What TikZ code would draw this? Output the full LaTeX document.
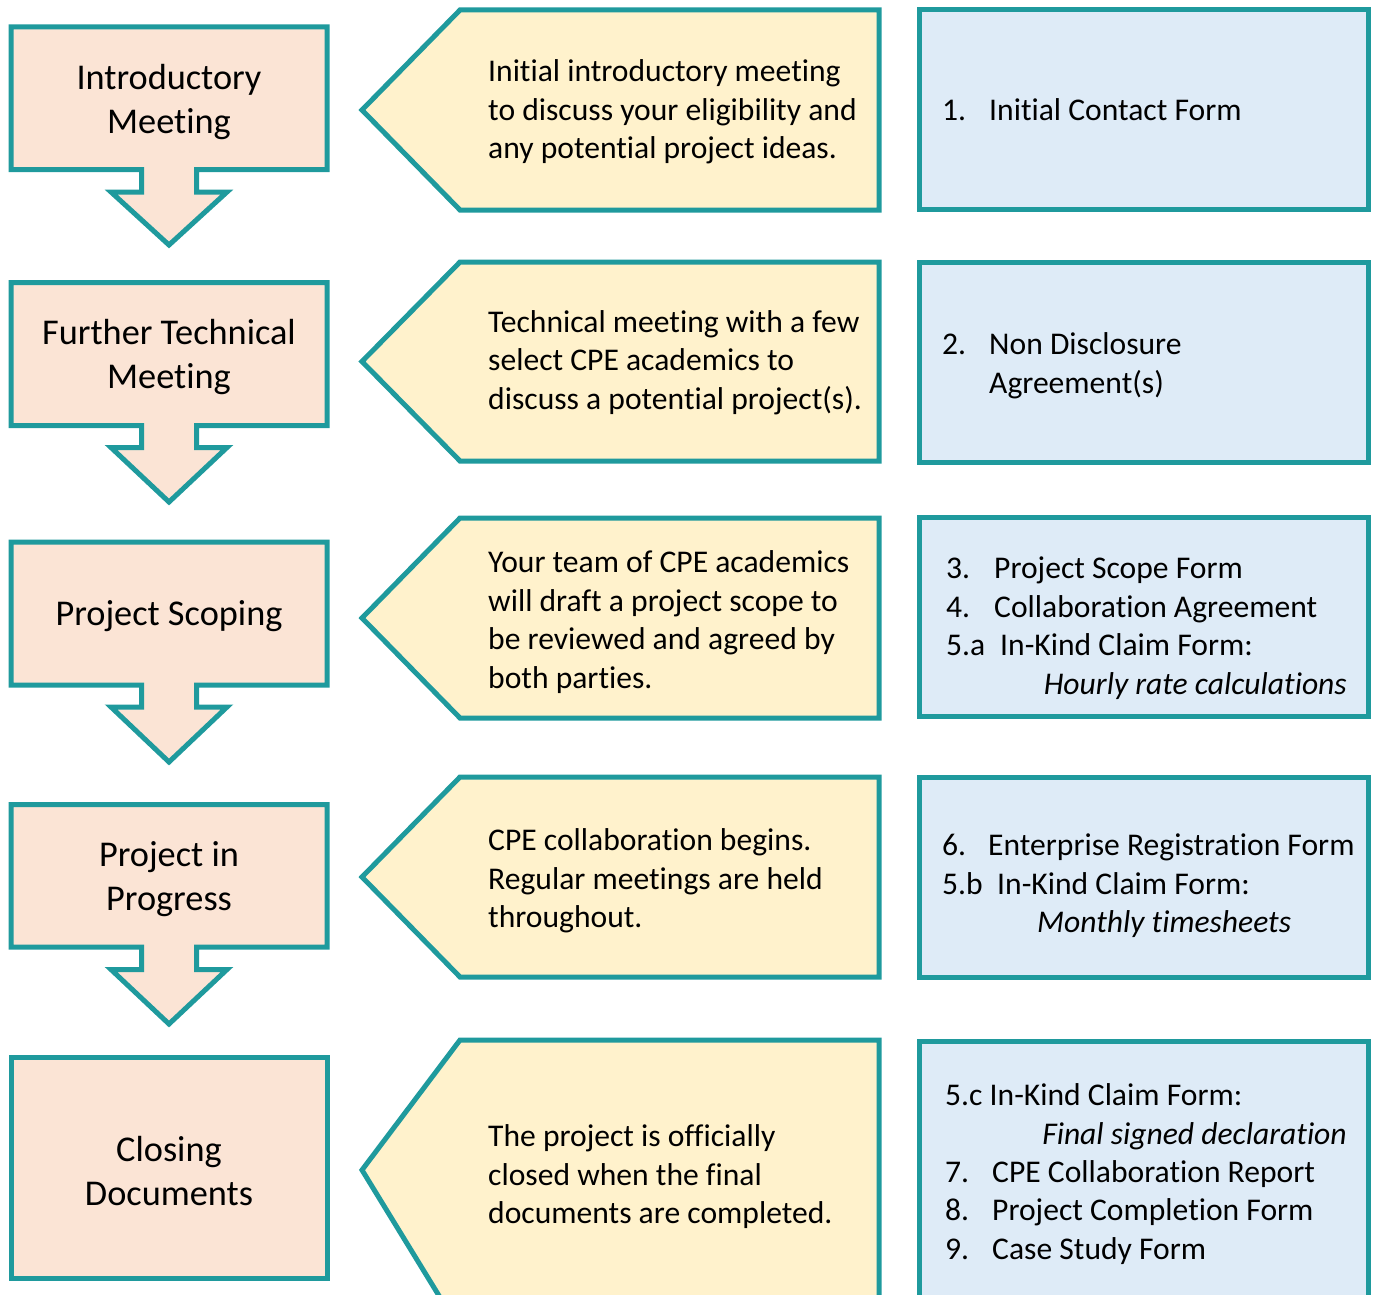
\documentclass[tikz,border=0pt]{standalone}
\usepackage{fontspec}
\setmainfont{Carlito}[Ligatures=NoCommon]
\definecolor{myteal}{RGB}{31,154,157}
\definecolor{peachfill}{RGB}{251,228,213}
\definecolor{goldfill}{RGB}{255,242,204}
\definecolor{bluefill}{RGB}{222,235,247}
\tikzset{
  frame/.style={draw=myteal, line width=5pt, line join=miter, miter limit=10},
  stepbox/.style={frame, fill=peachfill},
  descbox/.style={frame, fill=goldfill},
  formbox/.style={frame, fill=bluefill},
  steptext/.style={inner sep=0pt, align=center, font=\fontsize{36.3}{44}\selectfont},
  desctext/.style={inner sep=0pt, anchor=west, align=left, font=\fontsize{31.6}{38.5}\selectfont},
  formtext/.style={inner sep=0pt, anchor=base west, font=\fontsize{31.6}{38.5}\selectfont},
  formital/.style={formtext, font=\fontsize{31.6}{38.5}\selectfont\itshape},
}
\newcommand{\stepshape}[4]{% top, bottom, wing, tip
  \path[stepbox] (11,#1) -- (327,#1) -- (327,#2) -- (196.5,#2) -- (196.5,#3) -- (227,#3)
     -- (169,#4) -- (111,#3) -- (141.5,#3) -- (141.5,#2) -- (11,#2) -- cycle;}
\newcommand{\descshape}[3]{% top, bottom, tip y
  \path[descbox] (362,#3) -- (460,#1) -- (879,#1) -- (879,#2) -- (460,#2) -- cycle;}
\begin{document}
\begin{tikzpicture}[x=1pt, y=-1pt]
\useasboundingbox (0,0) rectangle (1373,1295);
\clip (0,0) rectangle (1373,1295);

% ---------- left column: step boxes with down arrows ----------
\stepshape{27}{169.5}{192}{245}
\stepshape{282.5}{425.5}{447.5}{502}
\stepshape{542}{685}{707}{762}
\stepshape{804.5}{947}{969.5}{1024}
\path[stepbox] (11,1057.5) rectangle (327,1278);

\node[steptext] (s1) at (169,102) {Introductory\\Meeting};
\node[steptext] (s2) at (169,357.5) {Further Technical\\Meeting};
\node[steptext] (s3) at (169,616.5) {Project Scoping};
\node[steptext] (s4) at (169,879.5) {Project in\\Progress};
\node[steptext] (s5) at (169,1171.5) {Closing\\Documents};

% ---------- middle column: pentagon descriptions ----------
\descshape{10}{210}{110}
\descshape{262}{461}{361.5}
\descshape{518}{718}{618}
\descshape{777}{977}{877}
\path[descbox] (362,1170) -- (460,1040) -- (879,1040) -- (879,1330) -- (460,1330) -- cycle;

\node[desctext] (d1) at (488,112) {Initial introductory meeting\\to discuss your eligibility and\\any potential project ideas.};
\node[desctext] (d2) at (488,362.5) {Technical meeting with a few\\select CPE academics to\\discuss a potential project(s).};
\node[desctext] (d3) at (488,622) {Your team of CPE academics\\will draft a project scope to\\be reviewed and agreed by\\both parties.};
\node[desctext] (d4) at (488,881) {CPE collaboration begins.\\Regular meetings are held\\throughout.};
\node[desctext] (d5) at (488,1177) {The project is officially\\closed when the final\\documents are completed.};

% ---------- right column: forms ----------
\path[formbox] (919,10) rectangle (1368,209.5);
\path[formbox] (919,262.5) rectangle (1368,462);
\path[formbox] (919,517.5) rectangle (1368,716.5);
\path[formbox] (919,777) rectangle (1368,977);
\path[formbox] (919,1041) rectangle (1368,1330);

\node[formtext] (f1n) at (942,121) {1.};
\node[formtext] (f1t) at (989,121) {Initial Contact Form};

\node[formtext] (f2n) at (942,354) {2.};
\node[formtext] (f2t) at (989,354) {Non Disclosure};
\node[formtext] (f2u) at (989,393) {Agreement(s)};

\node[formtext] (f3n) at (946,578.5) {3.};
\node[formtext] (f3t) at (994,578.5) {Project Scope Form};
\node[formtext] (f4n) at (946,617) {4.};
\node[formtext] (f4t) at (994,617) {Collaboration Agreement};
\node[formtext] (f5an) at (946,655.5) {5.a};
\node[formtext] (f5at) at (1000,655.5) {In-Kind Claim Form:};
\node[formital, anchor=base east] (f5ai) at (1347,694) {Hourly rate calculations};

\node[formtext] (f6n) at (942,855.5) {6.};
\node[formtext] (f6t) at (988,855.5) {Enterprise Registration Form};
\node[formtext] (f5bn) at (942,894) {5.b};
\node[formtext] (f5bt) at (997,894) {In-Kind Claim Form:};
\node[formital] (f5bi) at (1037,932.5) {Monthly timesheets};

\node[formtext] (f5ct) at (945,1105.5) {5.c In-Kind Claim Form:};
\node[formital, anchor=base east] (f5ci) at (1347,1144) {Final signed declaration};
\node[formtext] (f7n) at (945,1182) {7.};
\node[formtext] (f7t) at (992,1182) {CPE Collaboration Report};
\node[formtext] (f8n) at (945,1220.5) {8.};
\node[formtext] (f8t) at (992,1220.5) {Project Completion Form};
\node[formtext] (f9n) at (945,1259) {9.};
\node[formtext] (f9t) at (992,1259) {Case Study Form};
\end{tikzpicture}
\end{document}
